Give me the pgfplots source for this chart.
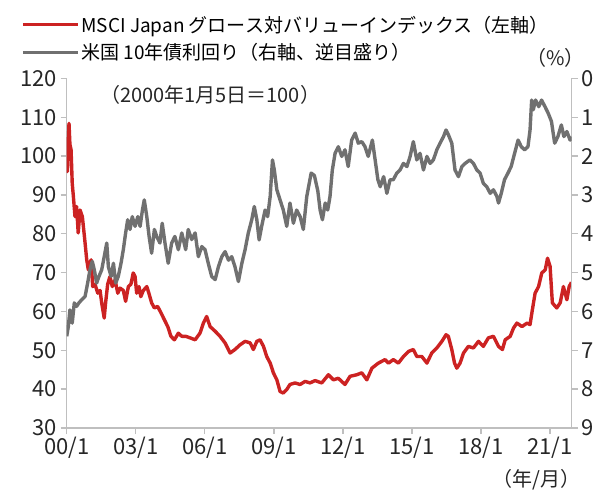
\documentclass[border=0pt]{standalone}
\usepackage{fontspec}
\setmainfont{Noto Sans CJK JP}
\usepackage{pgfplots}
\pgfplotsset{compat=1.18}
\definecolor{myred}{RGB}{204,34,34}
\definecolor{mygray}{RGB}{112,112,112}
\definecolor{axgray}{RGB}{191,191,191}
\pgfplotstableread{
t v
2000.00 100
2000.03 96
2000.07 104
2000.10 108.4
2000.14 103
2000.19 101.6
2000.24 93
2000.29 89.6
2000.36 84.4
2000.43 87
2000.50 80.2
2000.58 86.1
2000.68 84.4
2000.77 79.3
2000.87 73.3
2000.94 70.7
2001.06 73.3
2001.13 66.4
2001.23 67
2001.35 64.7
2001.45 65.4
2001.52 62.2
2001.63 58.3
2001.69 62.2
2001.78 67
2001.88 69
2001.98 66.4
2002.10 68.1
2002.22 64.7
2002.32 66
2002.46 65.4
2002.56 62.6
2002.68 66.4
2002.79 67
2002.89 69.9
2002.97 69
2003.04 64.7
2003.14 66.4
2003.22 63.8
2003.33 65.4
2003.48 66.4
2003.57 64.7
2003.69 62.2
2003.81 60.9
2003.95 61.3
2004.10 59.6
2004.24 57.9
2004.39 56.1
2004.53 53.6
2004.68 52.7
2004.85 54.4
2005.00 53.6
2005.17 53.6
2005.36 53.2
2005.58 52.7
2005.79 54.4
2005.94 57
2006.08 58.7
2006.23 56.1
2006.45 54.9
2006.66 53.6
2006.88 51.9
2007.10 49.3
2007.31 50.2
2007.53 51.4
2007.75 52.3
2007.97 51.9
2008.11 50.2
2008.26 52.3
2008.40 52.7
2008.55 51
2008.69 48.4
2008.84 46.7
2008.98 44.2
2009.13 42.4
2009.27 39.4
2009.41 39
2009.56 39.9
2009.70 41.2
2009.92 41.6
2010.14 41.2
2010.36 42
2010.57 41.6
2010.79 42.2
2011.08 41.6
2011.37 43.7
2011.59 42.4
2011.80 42.8
2012.09 41.2
2012.31 43.3
2012.60 43.7
2012.82 44.2
2013.04 42.4
2013.26 45.4
2013.54 46.7
2013.83 47.6
2013.98 46.7
2014.19 47.6
2014.41 46.7
2014.63 48.4
2014.85 49.7
2015.06 50.2
2015.21 48.4
2015.43 48.4
2015.65 46.7
2015.86 49.3
2016.08 50.6
2016.30 52.3
2016.48 54
2016.58 53.6
2016.73 50.2
2016.85 46.7
2016.95 45.4
2017.09 46.7
2017.24 49.3
2017.45 51
2017.67 50.6
2017.89 52.3
2018.10 51
2018.32 53.2
2018.54 53.6
2018.76 51
2018.93 50.2
2019.05 52.7
2019.27 53.6
2019.41 55.7
2019.56 57
2019.78 56.1
2020.00 57
2020.13 56.6
2020.23 60.4
2020.35 64.7
2020.50 66.4
2020.64 69.9
2020.79 70.7
2020.89 73.7
2021.00 71.6
2021.10 62.2
2021.29 60.9
2021.44 62.2
2021.58 66.4
2021.73 63
2021.83 66.4
2021.93 67.5
}\redtable
\pgfplotstableread{
t y
2000.00 6.64
2000.07 6.39
2000.14 5.96
2000.24 6.3
2000.33 5.78
2000.43 5.87
2000.53 5.78
2000.65 5.7
2000.80 5.61
2000.91 5.27
2001.01 4.93
2001.11 4.71
2001.20 4.93
2001.30 5.27
2001.40 5.1
2001.52 4.93
2001.63 4.59
2001.74 4.24
2001.81 4.85
2001.93 5.1
2002.03 4.76
2002.13 5.27
2002.24 5.1
2002.36 4.76
2002.46 4.41
2002.56 3.98
2002.65 3.64
2002.75 3.89
2002.85 3.56
2002.97 3.81
2003.09 3.56
2003.19 3.81
2003.29 3.39
2003.37 3.13
2003.48 3.56
2003.58 4.07
2003.69 4.5
2003.81 3.89
2003.91 4.07
2004.05 4.24
2004.15 3.73
2004.27 4.24
2004.41 4.76
2004.56 4.24
2004.70 4.07
2004.85 4.41
2005.00 3.98
2005.17 4.41
2005.28 3.89
2005.43 4.15
2005.58 3.98
2005.72 4.59
2005.87 4.33
2006.01 4.41
2006.15 4.76
2006.30 5.1
2006.45 5.18
2006.59 4.85
2006.74 4.59
2006.88 4.46
2007.03 4.68
2007.17 4.59
2007.31 4.85
2007.46 5.23
2007.61 4.76
2007.75 4.41
2007.89 3.98
2008.04 3.64
2008.15 3.3
2008.26 3.64
2008.36 4.16
2008.47 3.81
2008.62 3.39
2008.73 3.56
2008.84 3.04
2008.94 2.1
2009.02 2.36
2009.13 2.87
2009.27 3.13
2009.41 3.39
2009.56 3.81
2009.70 3.21
2009.85 3.73
2009.99 3.39
2010.14 3.56
2010.28 3.89
2010.43 3.04
2010.62 2.44
2010.76 2.5
2010.91 2.9
2011.01 3.39
2011.11 3.64
2011.23 3.21
2011.34 3.39
2011.44 3.04
2011.54 2.36
2011.66 1.93
2011.80 1.76
2011.95 2.01
2012.09 1.84
2012.23 2.27
2012.38 1.59
2012.53 1.41
2012.67 1.67
2012.82 1.63
2012.96 1.76
2013.10 2.01
2013.28 1.59
2013.40 2.1
2013.52 2.61
2013.62 2.79
2013.77 2.53
2013.91 2.96
2014.05 2.61
2014.19 2.61
2014.34 2.44
2014.48 2.36
2014.63 2.19
2014.78 2.27
2014.92 2.01
2015.06 1.63
2015.21 2.1
2015.35 1.93
2015.50 2.36
2015.65 2.01
2015.79 2.19
2015.93 2.1
2016.08 1.84
2016.22 1.67
2016.37 1.5
2016.48 1.33
2016.58 1.45
2016.73 1.67
2016.87 2.36
2017.02 2.53
2017.17 2.27
2017.31 2.19
2017.52 2.1
2017.67 2.19
2017.82 2.36
2017.96 2.44
2018.10 2.7
2018.25 2.79
2018.40 2.96
2018.54 2.87
2018.69 3.04
2018.76 3.21
2018.88 2.96
2019.02 2.61
2019.17 2.44
2019.31 2.27
2019.46 1.93
2019.61 1.59
2019.75 1.76
2019.89 1.84
2020.04 1.76
2020.13 1.33
2020.20 0.56
2020.27 0.81
2020.37 0.56
2020.51 0.73
2020.63 0.56
2020.78 0.73
2020.92 0.9
2021.06 1.11
2021.20 1.67
2021.34 1.5
2021.49 1.2
2021.60 1.5
2021.73 1.37
2021.87 1.59
2021.93 1.5
}\graytable
\begin{document}
\begin{tikzpicture}
\path[use as bounding box] (0,0) rectangle (605bp,490bp);
\pgfplotsset{every axis/.append style={
  scale only axis, width=505bp, height=349.7bp,
  at={(66.7bp,62bp)}, anchor=south west,
  xmin=2000, xmax=2021.94,
  axis line style={axgray, line width=1.3bp},
  major tick style={axgray, line width=1.3bp},
  tick align=outside, major tick length=6bp,
  tick label style={font=\fontsize{22bp}{26bp}\selectfont, text=black!85},
  /pgf/number format/assume math mode=true,
}}
\begin{axis}[
  clip mode=individual,
  axis x line*=bottom, axis y line*=left,
  ymin=30, ymax=120, ytick={30,40,...,120},
  xtick={2000,2003,...,2021},
  xticklabels={00/1,03/1,06/1,09/1,12/1,15/1,18/1,21/1},
  legend style={at={(rel axis cs:-0.0905,1.185)}, anchor=north west, draw=none, fill=none,
    inner sep=0pt, font=\fontsize{19bp}{23bp}\selectfont, row sep=6bp, cells={anchor=west}},
  legend image code/.code={\draw[#1, line width=3.2bp] (0bp,0bp) -- (55bp,0bp);},
]
\addplot[myred, line width=3.4bp, line join=round] table[x=t,y=v] {\redtable};
\addlegendentry{MSCI Japan グロース対バリューインデックス（左軸）}
\addlegendimage{mygray, line width=3.2bp}
\addlegendentry{米国 10年債利回り（右軸、逆目盛り）}
\node[font=\fontsize{20bp}{24bp}\selectfont, text=black!85] at (rel axis cs:0.284,0.952) {（2000年1月5日＝100）};
\node[font=\fontsize{20bp}{24bp}\selectfont, text=black!85] at (rel axis cs:0.968,1.058) {（\%）};
\node[font=\fontsize{20bp}{24bp}\selectfont, text=black!85] at (rel axis cs:0.931,-0.149) {（年/月）};
\end{axis}
\begin{axis}[
  axis y line*=right, axis x line=none,
  ymin=0, ymax=9, y dir=reverse, ytick={0,1,...,9},
]
\addplot[mygray, line width=3.4bp, line join=round] table[x=t,y=y] {\graytable};
\end{axis}
\end{tikzpicture}
\end{document}
